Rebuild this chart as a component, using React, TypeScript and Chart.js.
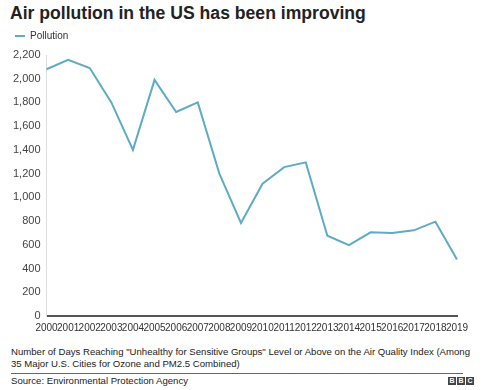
import React, { useEffect, useRef } from "react";
import { Chart, registerables } from "chart.js";

Chart.register(...registerables);

const years = ["2000","2001","2002","2003","2004","2005","2006","2007","2008","2009","2010","2011","2012","2013","2014","2015","2016","2017","2018","2019"];
const pollution = [2080, 2160, 2090, 1800, 1400, 1990, 1720, 1800, 1200, 785, 1115, 1255, 1295, 677, 598, 705, 700, 722, 795, 476];
const seriesName = "Pollution";
const titleText = "Air pollution in the US has been improving";
const noteText = "Number of Days Reaching \"Unhealthy for Sensitive Groups\" Level or Above on the Air Quality Index (Among 35 Major U.S. Cities for Ozone and PM2.5 Combined)";
const sourceText = "Source: Environmental Protection Agency";

const FONT = "'Liberation Sans', Arial, Helvetica, sans-serif";

export default function App() {
  const ref = useRef<HTMLCanvasElement>(null);
  useEffect(() => {
    if (!ref.current) return;
    const chart = new Chart(ref.current, {
      type: "line",
      data: {
        labels: years,
        datasets: [{
          label: seriesName,
          data: pollution,
          borderColor: "#5eabc6",
          backgroundColor: "#5eabc6",
          borderWidth: 2,
          pointRadius: 0,
          tension: 0,
          xAxisID: "x",
        }],
      },
      options: {
        animation: false,
        responsive: false,
        layout: { padding: { left: 7, right: 33, top: 0, bottom: 0 } },
        plugins: {
          legend: {
            position: "top",
            align: "start",
            labels: {
              usePointStyle: true,
              pointStyle: "line",
              pointStyleWidth: 10,
              boxHeight: 10,
              color: "#333",
              font: { family: FONT, size: 10 },
              padding: 8,
            },
          },
          tooltip: { enabled: false },
        },
        scales: {
          spacer: {
            type: "category",
            position: "top",
            display: true,
            grid: { display: false, drawTicks: false },
            border: { display: false },
            ticks: { display: false },
            afterFit: (s: any) => { s.height = 4; },
          },
          x: {
            offset: false,
            grid: { display: false, drawTicks: false },
            border: { display: true, color: "#555", width: 2 },
            ticks: {
              autoSkip: false,
              maxRotation: 0,
              minRotation: 0,
              color: "#333",
              padding: 6,
              font: { family: FONT, size: 10 },
            },
          },
          y: {
            min: 0,
            max: 2200,
            grid: { display: false, drawTicks: false },
            border: { display: true, color: "#ddd", width: 1 },
            ticks: {
              stepSize: 200,
              color: "#444",
              padding: 6,
              font: { family: FONT, size: 11 },
              callback: (v: any) => Number(v).toLocaleString("en-US"),
            },
          },
        },
      },
    });
    return () => chart.destroy();
  }, []);

  return (
    <div style={{ position: "absolute", left: 0, top: 0, width: 490, height: 390, background: "#fff", fontFamily: FONT, overflow: "hidden" }}>
      <div style={{ position: "absolute", left: 10, top: 3, fontSize: 17.6, fontWeight: "bold", color: "#222", whiteSpace: "nowrap" }}>{titleText}</div>
      <canvas ref={ref} width={490} height={317} style={{ position: "absolute", left: 0, top: 23, width: 490, height: 317 }} />
      <div style={{ position: "absolute", left: 11, top: 346, width: 470, fontSize: 9.6, lineHeight: "12px", color: "#222" }}>{noteText}</div>
      <div style={{ position: "absolute", left: 11, top: 373, width: 452, height: 1, background: "#666" }} />
      <div style={{ position: "absolute", left: 11, top: 375, fontSize: 9.6, color: "#222" }}>{sourceText}</div>
      <div style={{ position: "absolute", left: 448, top: 377, display: "flex", gap: 1 }}>
        {["B", "B", "C"].map((c, i) => (
          <div key={i} style={{ width: 8, height: 8, background: "#444", color: "#fff", fontSize: 7, lineHeight: "8px", textAlign: "center", fontWeight: "bold" }}>{c}</div>
        ))}
      </div>
    </div>
  );
}
